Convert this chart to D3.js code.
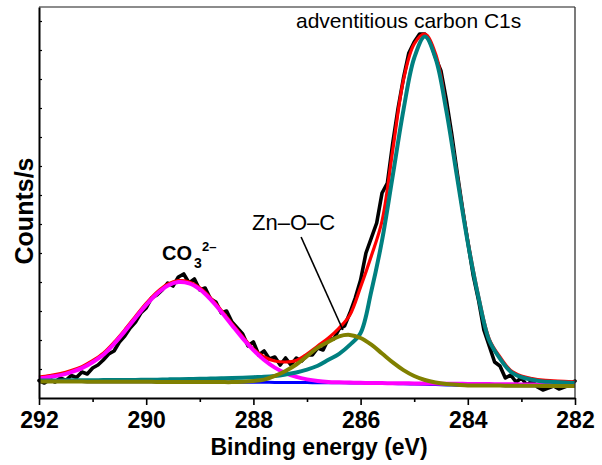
<!DOCTYPE html>
<html>
<head>
<meta charset="utf-8">
<script src="https://cdn.jsdelivr.net/npm/d3@7"></script>
<style>
  html, body { margin: 0; padding: 0; background: #fff; }
  svg { display: block; font-family: "Liberation Sans", Arial, sans-serif; }
</style>
</head>
<body>
<svg id="chart" width="602" height="465"></svg>
<script>
// C1s XPS spectrum: raw counts, fitted envelope, components and background
const energyFit = [292.0,291.8,291.6,291.4,291.2,291.0,290.8,290.6,290.4,290.2,
  290.0,289.8,289.6,289.4,289.2,289.0,288.8,288.6,288.4,288.2,
  288.0,287.8,287.6,287.4,287.2,287.0,286.8,286.6,286.4,286.2,
  286.0,285.8,285.6,285.4,285.2,285.0,284.8,284.6,284.4,284.2,
  284.0,283.8,283.6,283.4,283.2,283.0,282.8,282.6,282.4,282.2,282.0];

const energyRaw = [292.0,291.9,291.8,291.7,291.6,291.5,291.4,291.3,291.2,291.1,
  291.0,290.9,290.8,290.7,290.6,290.5,290.4,290.3,290.2,290.1,
  290.0,289.9,289.8,289.7,289.6,289.5,289.4,289.3,289.2,289.1,
  289.0,288.9,288.8,288.7,288.6,288.5,288.4,288.3,288.2,288.1,
  288.0,287.9,287.8,287.7,287.6,287.5,287.4,287.3,287.2,287.1,
  287.0,286.9,286.8,286.7,286.6,286.5,286.4,286.3,286.2,286.1,
  286.0,285.9,285.8,285.7,285.6,285.5,285.4,285.3,285.2,285.1,
  285.0,284.9,284.8,284.7,284.6,284.5,284.4,284.3,284.2,284.1,
  284.0,283.9,283.8,283.7,283.6,283.5,283.4,283.3,283.2,283.1,
  283.0,282.9,282.8,282.7,282.6,282.5,282.4,282.3,282.2,282.1,282.0];

// measured counts (black)
const rawCounts = [175,150,185,160,200,175,225,205,260,240,
  300,330,380,440,470,560,620,700,760,850,
  900,1000,1030,1080,1150,1120,1210,1240,1150,1190,
  1080,1100,990,960,850,870,760,700,640,520,
  560,430,470,390,410,330,400,330,400,370,
  430,430,500,480,590,590,690,720,850,1000,
  1180,1450,1600,1750,2050,2150,2550,2900,3200,3450,
  3560,3640,3640,3560,3400,3270,2980,2640,2260,1900,
  1560,1230,980,680,520,360,320,200,230,160,
  200,130,170,110,80,100,120,90,110,130,170];

// fitted envelope (red)
const envelope = [210,225,244,274,314,373,448,556,681,815,
  946,1058,1138,1174,1161,1101,1002,878,743,612,
  490,410,370,360,375,440,520,600,700,830,
  1110,1420,1770,2480,3180,3540,3640,3440,2900,2230,
  1575,1020,590,410,275,220,194,178,172,166,162];

// background (blue)
const background = [165,165,164,164,164,163,163,163,162,162,
  162,161,161,160,160,160,159,159,159,158,
  158,157,156,156,155,154,153,152,152,151,
  150,148,146,144,142,140,137,134,131,128,
  125,125,124,124,123,123,122,121,121,120,120];

// CO3 2- component (magenta)
const carbonate = [195,210,229,259,299,358,433,541,666,800,
  931,1043,1123,1159,1146,1086,987,863,728,596,
  479,380,304,249,211,186,170,161,157,154,
  152,150,149,148,147,146,145,144,143,142,
  141,140,139,138,137,136,135,134,133,132,131];

// Zn-O-C component (olive)
const znoc = [165,165,164,164,164,163,163,163,162,162,
  162,161,161,160,160,160,159,159,159,163,
  170,184,221,271,335,419,503,562,617,631,
  600,533,445,356,279,220,180,155,140,132,
  125,125,124,124,123,123,122,121,121,120,120];

// adventitious carbon C1s component (teal)
const adventitious = [175,176,176,177,178,178,179,180,180,181,
  182,183,186,187,190,192,194,197,199,203,
  208,212,221,236,255,284,323,382,442,531,
  650,1068,1576,2224,2882,3400,3615,3394,2871,2208,
  1555,1005,574,394,263,208,182,166,161,155,150];

const xMajorTicks = [292, 290, 288, 286, 284, 282];
const xMinorTicks = [291, 289, 287, 285, 283];
const yTicks = [290, 580, 870, 1160, 1450, 1740, 2030, 2320, 2610, 2900, 3190, 3480, 3770];

const svg = d3.select("#chart");
const W = 602, H = 465;
const margin = { left: 39, right: 27, top: 7, bottom: 67 };

const x = d3.scaleLinear().domain([292, 282]).range([margin.left, W - margin.right]);
const y = d3.scaleLinear().domain([0, 3910]).range([H - margin.bottom, margin.top]);

const fitLine = d3.line()
  .x((d, i) => x(energyFit[i]))
  .y(d => y(d))
  .curve(d3.curveCatmullRom.alpha(0.5));

const rawLine = d3.line()
  .x((d, i) => x(energyRaw[i]))
  .y(d => y(d));

const plot = svg.append("g");

plot.append("path").datum(rawCounts)
  .attr("d", rawLine).attr("fill", "none")
  .attr("stroke", "#000").attr("stroke-width", 3.6)
  .attr("stroke-linejoin", "round").attr("stroke-linecap", "round");

const fits = [
  { values: envelope, color: "#ff0000", width: 3.2 },
  { values: background, color: "#0000ff", width: 3 },
  { values: carbonate, color: "#ff00ff", width: 4 },
  { values: adventitious, color: "#008080", width: 4 },
  { values: znoc, color: "#808000", width: 4 }
];
fits.forEach(f => {
  plot.append("path").datum(f.values)
    .attr("d", fitLine).attr("fill", "none")
    .attr("stroke", f.color).attr("stroke-width", f.width)
    .attr("stroke-linejoin", "round");
});

// frame: top and right
svg.append("line")
  .attr("x1", margin.left).attr("x2", W - margin.right)
  .attr("y1", margin.top).attr("y2", margin.top)
  .attr("stroke", "#666").attr("stroke-width", 1.3);
svg.append("line")
  .attr("x1", W - margin.right).attr("x2", W - margin.right)
  .attr("y1", margin.top).attr("y2", H - margin.bottom)
  .attr("stroke", "#333").attr("stroke-width", 1.3);

// x axis
const xAxis = svg.append("g")
  .attr("transform", `translate(0,${H - margin.bottom})`)
  .call(d3.axisBottom(x).tickValues(xMajorTicks).tickSize(7).tickSizeOuter(0)
    .tickPadding(7).tickFormat(d3.format("d")));
xAxis.select(".domain").attr("stroke-width", 2);
xAxis.selectAll(".tick line").attr("stroke-width", 1.6);
xAxis.selectAll(".tick text")
  .attr("font-size", 23).attr("font-weight", "bold")
  .attr("font-family", "'Liberation Sans', Arial, sans-serif").attr("fill", "#000");

const xMinor = svg.append("g")
  .attr("transform", `translate(0,${H - margin.bottom})`)
  .call(d3.axisBottom(x).tickValues(xMinorTicks).tickSize(4).tickSizeOuter(0).tickFormat(""));
xMinor.select(".domain").remove();
xMinor.selectAll(".tick line").attr("stroke-width", 1.6);

// y axis, inward ticks without labels
const yAxis = svg.append("g")
  .attr("transform", `translate(${margin.left},0)`)
  .call(d3.axisLeft(y).tickValues(yTicks).tickSize(-3).tickSizeOuter(0).tickFormat(""));
yAxis.select(".domain").attr("stroke-width", 2);
yAxis.selectAll(".tick line").attr("stroke-width", 1.2);

// axis titles
svg.append("text")
  .attr("x", 319).attr("y", 455)
  .attr("text-anchor", "middle")
  .attr("font-size", 23).attr("font-weight", "bold")
  .text("Binding energy (eV)");

svg.append("text")
  .attr("transform", "translate(33,211) rotate(-90)")
  .attr("text-anchor", "middle")
  .attr("font-size", 25).attr("font-weight", "bold")
  .text("Counts/s");

// peak labels
svg.append("text")
  .attr("x", 296).attr("y", 28)
  .attr("font-size", 21)
  .text("adventitious carbon C1s");

svg.append("text")
  .attr("x", 252).attr("y", 230)
  .attr("font-size", 22)
  .text("Zn\u2013O\u2013C");

const co3 = svg.append("g").attr("font-weight", "bold");
co3.append("text").attr("x", 162).attr("y", 260).attr("font-size", 20).text("CO");
co3.append("text").attr("x", 194).attr("y", 268).attr("font-size", 14).text("3");
co3.append("text").attr("x", 202).attr("y", 251).attr("font-size", 13).text("2\u2013");

// leader line from the Zn-O-C label to its peak
const leader = { e1: 287.11, v1: 1610, e2: 286.33, v2: 680 };
svg.append("line")
  .attr("x1", x(leader.e1)).attr("y1", y(leader.v1))
  .attr("x2", x(leader.e2)).attr("y2", y(leader.v2))
  .attr("stroke", "#000").attr("stroke-width", 1.6);
</script>
</body>
</html>
